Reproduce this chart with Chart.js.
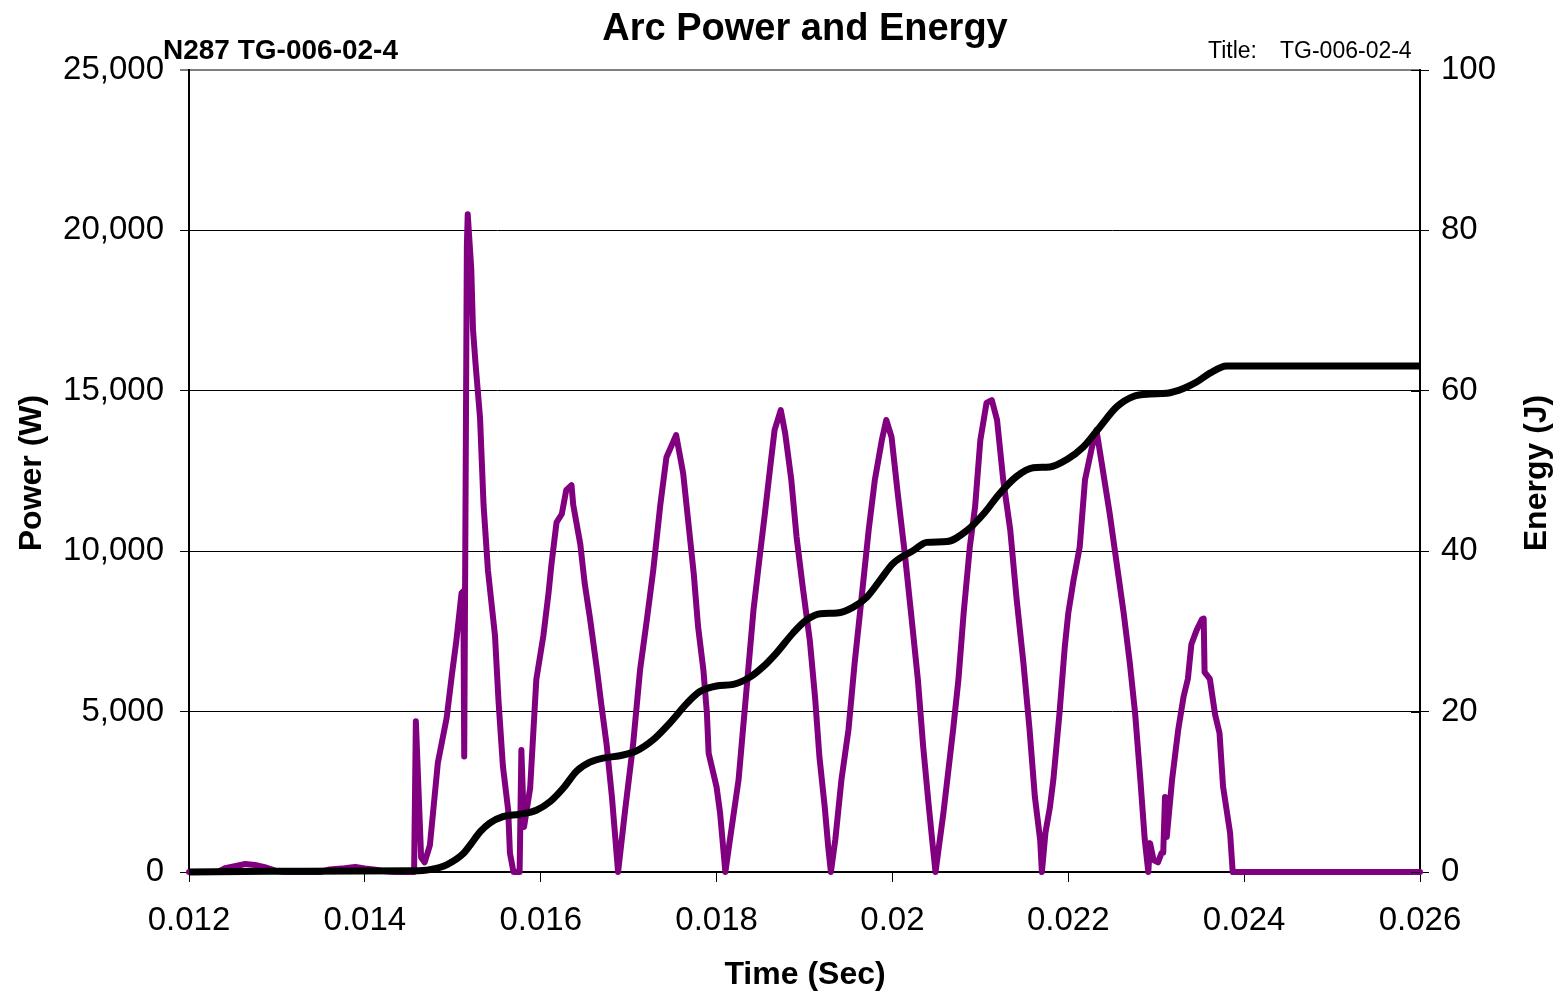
<!DOCTYPE html>
<html>
<head>
<meta charset="utf-8">
<title>Arc Power and Energy</title>
<script src="https://cdn.jsdelivr.net/npm/chart.js@4.4.1/dist/chart.umd.min.js"></script>
<style>
    body { margin: 0; background: #fff; }
    canvas { display: block; }
</style>
</head>
<body>
<canvas id="arcChart" width="1561" height="993"></canvas>
<script>
// Arc power trace (W) against time (s)
const powerTime = [
    0.01200, 0.01233, 0.01241, 0.01252, 0.01264, 0.01275, 0.01286, 0.01298, 0.01309, 0.01349,
    0.01360, 0.01377, 0.01389, 0.01400, 0.01412, 0.01423, 0.01434, 0.01456, 0.01458, 0.01464,
    0.01468, 0.01474, 0.01483, 0.01493, 0.01499, 0.01504, 0.01510, 0.01512, 0.01513, 0.01516,
    0.01517, 0.01521, 0.01523, 0.01526, 0.01531, 0.01535, 0.01540, 0.01548, 0.01552, 0.01557,
    0.01563, 0.01565, 0.01569, 0.01576, 0.01578, 0.01581, 0.01588, 0.01595, 0.01603, 0.01609,
    0.01612, 0.01618, 0.01624, 0.01629, 0.01635, 0.01637, 0.01645, 0.01650, 0.01656, 0.01664,
    0.01669, 0.01675, 0.01681, 0.01688, 0.01696, 0.01705, 0.01713, 0.01721, 0.01728, 0.01736,
    0.01743, 0.01749, 0.01754, 0.01762, 0.01768, 0.01774, 0.01779, 0.01785, 0.01789, 0.01791,
    0.01800, 0.01804, 0.01810, 0.01815, 0.01825, 0.01830, 0.01836, 0.01842, 0.01849, 0.01855,
    0.01861, 0.01866, 0.01873, 0.01878, 0.01885, 0.01891, 0.01898, 0.01906, 0.01912, 0.01917,
    0.01923, 0.01927, 0.01930, 0.01935, 0.01942, 0.01950, 0.01957, 0.01965, 0.01973, 0.01980,
    0.01988, 0.01993, 0.01999, 0.02006, 0.02014, 0.02022, 0.02029, 0.02035, 0.02041, 0.02046,
    0.02049, 0.02058, 0.02069, 0.02075, 0.02081, 0.02088, 0.02094, 0.02100, 0.02107, 0.02113,
    0.02119, 0.02126, 0.02134, 0.02141, 0.02149, 0.02156, 0.02162, 0.02168, 0.02170, 0.02174,
    0.02179, 0.02183, 0.02190, 0.02196, 0.02200, 0.02206, 0.02213, 0.02219, 0.02227, 0.02232,
    0.02238, 0.02247, 0.02255, 0.02263, 0.02270, 0.02276, 0.02282, 0.02287, 0.02291, 0.02293,
    0.02297, 0.02302, 0.02306, 0.02308, 0.02310, 0.02312, 0.02318, 0.02325, 0.02331, 0.02336,
    0.02340, 0.02346, 0.02352, 0.02354, 0.02355, 0.02361, 0.02367, 0.02372, 0.02376, 0.02384,
    0.02387, 0.02600
];
const powerW = [
    0, 0, 120, 180, 250, 220, 150, 40, 0, 0,
    80, 120, 160, 110, 70, 20, 0, 0, 4700, 450,
    300, 840, 3400, 4800, 6150, 7200, 8700, 8750, 3600, 19500,
    20500, 18800, 16900, 15800, 14150, 11440, 9400, 7370, 5330, 3300,
    1930, 590, 0, 0, 3800, 1400, 2620, 6000, 7360, 8720,
    9540, 10900, 11160, 11900, 12060, 11440, 10220, 9000, 7920, 6300,
    5200, 3960, 2340, 0, 1930, 3960, 6300, 7920, 9410, 11440,
    12930, 13300, 13620, 12430, 10870, 9310, 7640, 6300, 4950, 3700,
    2650, 1840, 0, 970, 2870, 4430, 6300, 8170, 9820, 11190,
    12620, 13780, 14400, 13680, 12220, 10440, 8880, 7230, 5450, 3580,
    2030, 780, 0, 1000, 2870, 4430, 6510, 8570, 10660, 12220,
    13470, 14090, 13560, 11810, 9940, 7850, 5980, 3900, 2150, 780,
    0, 1840, 4430, 5980, 8070, 10130, 11380, 13470, 14620, 14710,
    14090, 12220, 10660, 8570, 6510, 4430, 2340, 1000, 0, 1220,
    2000, 2870, 4950, 7010, 8070, 9100, 10130, 12220, 13250, 13780,
    12750, 11190, 9630, 8070, 6510, 4950, 2870, 1000, 0, 900,
    370, 300, 590, 600, 2340, 1090, 2870, 4430, 5450, 6020,
    7100, 7540, 7880, 7900, 6230, 6020, 4900, 4330, 2670, 1220,
    0, 0
];

// Cumulative arc energy (J) against time (s)
const energyTime = [
    0.01200, 0.01292, 0.01456, 0.01474, 0.01493, 0.01512, 0.01520, 0.01531, 0.01542, 0.01557,
    0.01576, 0.01595, 0.01611, 0.01626, 0.01641, 0.01656, 0.01671, 0.01690, 0.01709, 0.01728,
    0.01747, 0.01766, 0.01781, 0.01800, 0.01819, 0.01838, 0.01853, 0.01868, 0.01887, 0.01902,
    0.01918, 0.01937, 0.01955, 0.01971, 0.01986, 0.02001, 0.02024, 0.02039, 0.02062, 0.02085,
    0.02104, 0.02122, 0.02141, 0.02160, 0.02179, 0.02198, 0.02217, 0.02236, 0.02255, 0.02274,
    0.02293, 0.02312, 0.02331, 0.02346, 0.02361, 0.02380, 0.02600
];
const energyJ = [
    0, 0.1, 0.15, 0.3, 0.9, 2.3, 3.4, 5.0, 6.1, 6.9,
    7.2, 7.7, 8.8, 10.5, 12.6, 13.7, 14.2, 14.5, 15.1, 16.5,
    18.6, 21.0, 22.5, 23.2, 23.4, 24.3, 25.6, 27.3, 29.8, 31.4,
    32.2, 32.3, 33.0, 34.3, 36.4, 38.5, 40.1, 41.1, 41.2, 42.6,
    44.7, 47.2, 49.3, 50.4, 50.5, 51.4, 53.0, 55.5, 58.0, 59.3,
    59.6, 59.7, 60.3, 61.1, 62.2, 63.1, 63.1
];

const chartTitle = 'Arc Power and Energy';
const testName = 'N287 TG-006-02-4';
const testTitle = 'TG-006-02-4';

const FONT = "'Liberation Sans', Arial, sans-serif";

const powerPoints = powerTime.map((t, i) => ({ x: t, y: powerW[i] }));
const energyPoints = energyTime.map((t, i) => ({ x: t, y: energyJ[i] }));

// Titles, axis names and the inner half of the right-hand ticks
const textPlugin = {
    id: 'textPlugin',
    afterDraw(chart) {
        const ctx = chart.ctx;
        const area = chart.chartArea;
        const y2 = chart.scales.y2;

        ctx.save();
        ctx.strokeStyle = '#000';
        ctx.lineWidth = 1;
        y2.ticks.forEach((tick) => {
            const py = Math.round(y2.getPixelForValue(tick.value)) + 0.5;
            ctx.beginPath();
            ctx.moveTo(area.right - 9, py);
            ctx.lineTo(area.right, py);
            ctx.stroke();
        });

        ctx.fillStyle = '#000';
        ctx.textBaseline = 'alphabetic';

        ctx.font = 'bold 38px ' + FONT;
        ctx.textAlign = 'center';
        ctx.fillText(chartTitle, 805, 40);

        ctx.font = 'bold 28px ' + FONT;
        ctx.textAlign = 'left';
        ctx.fillText(testName, 163, 59);

        ctx.font = '23px ' + FONT;
        ctx.fillText('Title:', 1208, 58);
        ctx.fillText(testTitle, 1280, 58);

        ctx.font = 'bold 32px ' + FONT;
        ctx.textAlign = 'center';
        ctx.textBaseline = 'middle';
        ctx.fillText('Time (Sec)', 805, 975);

        ctx.save();
        ctx.translate(32, 473);
        ctx.rotate(-Math.PI / 2);
        ctx.fillText('Power (W)', 0, 0);
        ctx.restore();

        ctx.save();
        ctx.translate(1537, 473);
        ctx.rotate(-Math.PI / 2);
        ctx.fillText('Energy (J)', 0, 0);
        ctx.restore();

        ctx.restore();
    }
};

document.addEventListener('DOMContentLoaded', function () {
    new Chart(document.getElementById('arcChart').getContext('2d'), {
        type: 'line',
        data: {
            datasets: [{
                label: 'Energy',
                data: energyPoints,
                yAxisID: 'y2',
                borderColor: '#000000',
                borderWidth: 7,
                pointRadius: 0,
                cubicInterpolationMode: 'monotone',
                order: 0,
                clip: 10
            }, {
                label: 'Power',
                data: powerPoints,
                yAxisID: 'y',
                borderColor: '#800080',
                borderWidth: 6,
                borderJoinStyle: 'round',
                borderCapStyle: 'round',
                pointRadius: 0,
                tension: 0,
                order: 1,
                clip: 10
            }]
        },
        options: {
            responsive: false,
            animation: false,
            events: [],
            layout: { padding: { top: 70, left: 0, right: 0, bottom: 0 } },
            plugins: {
                legend: { display: false },
                title: { display: false },
                tooltip: { enabled: false }
            },
            scales: {
                x: {
                    type: 'linear',
                    position: 'bottom',
                    min: 0.012,
                    max: 0.026,
                    afterFit: (scale) => { scale.height = 121; },
                    ticks: {
                        stepSize: 0.002,
                        maxRotation: 0,
                        padding: 19,
                        color: '#000',
                        font: { family: FONT, size: 33 },
                        callback: (v) => String(Number(v.toFixed(3)))
                    },
                    grid: { drawOnChartArea: false, tickLength: 10, color: '#000', lineWidth: 1 },
                    border: { color: '#000', width: 2 }
                },
                y: {
                    position: 'left',
                    min: 0,
                    max: 25000,
                    afterFit: (scale) => { scale.width = 189; },
                    ticks: {
                        stepSize: 5000,
                        padding: 16,
                        color: '#000',
                        font: { family: FONT, size: 33 },
                        callback: (v) => v.toLocaleString('en-US')
                    },
                    grid: {
                        tickLength: 9,
                        color: (c) => (c.tick && c.tick.value === 25000 ? '#808080' : '#000'),
                        lineWidth: (c) => (c.tick && c.tick.value === 25000 ? 2 : 1)
                    },
                    border: { color: '#000', width: 2 }
                },
                y2: {
                    position: 'right',
                    min: 0,
                    max: 100,
                    afterFit: (scale) => { scale.width = 141; },
                    ticks: {
                        stepSize: 20,
                        padding: 12,
                        color: '#000',
                        font: { family: FONT, size: 33 }
                    },
                    grid: { drawOnChartArea: false, tickLength: 9, color: '#000', lineWidth: 1 },
                    border: { color: '#000', width: 2 }
                }
            }
        },
        plugins: [textPlugin]
    });
});
</script>
</body>
</html>
